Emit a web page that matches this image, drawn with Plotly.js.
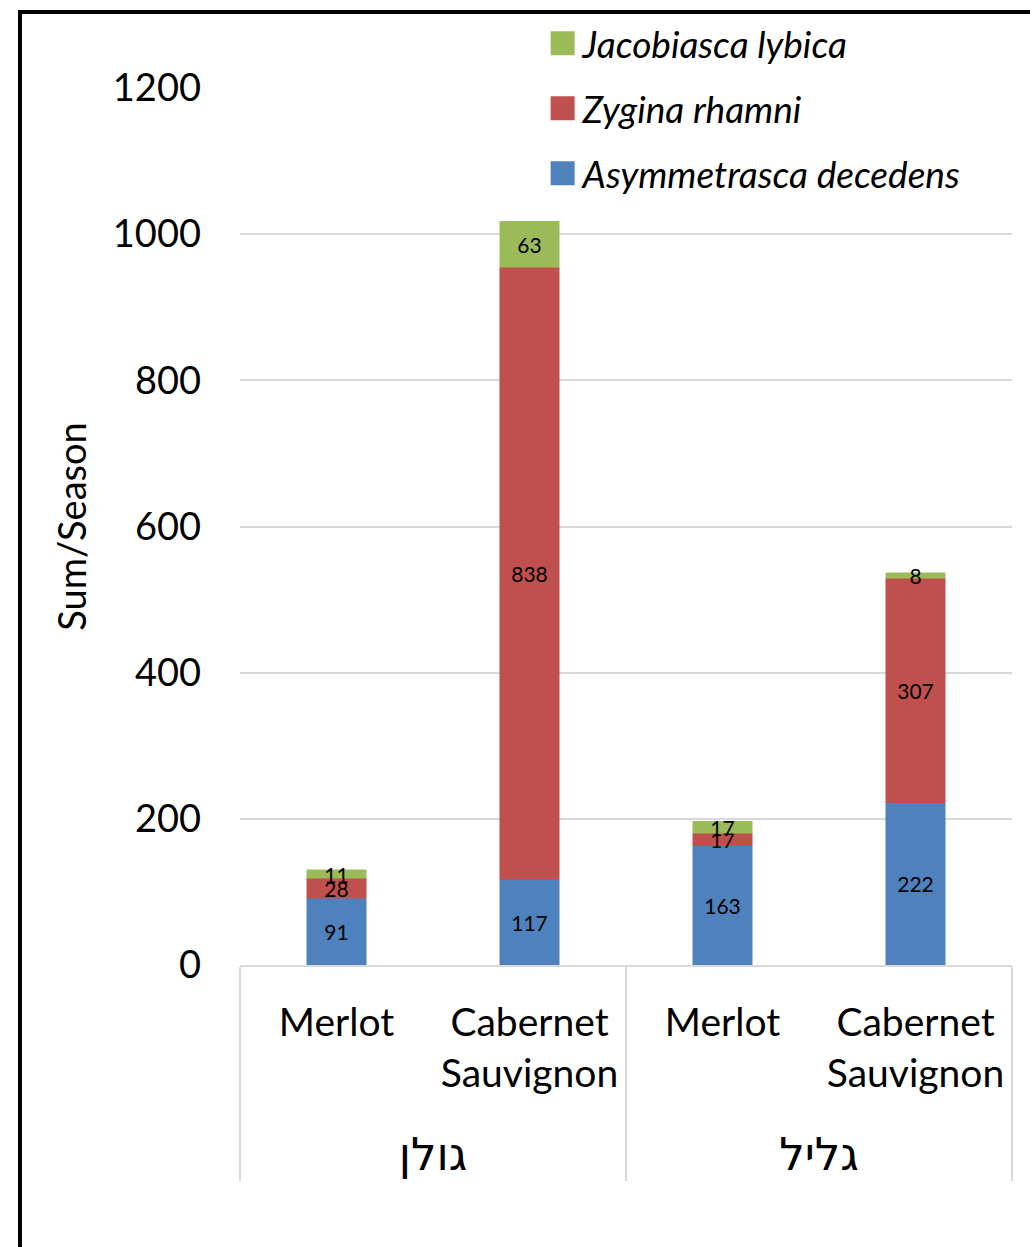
<!DOCTYPE html>
<html>
<head>
<meta charset="utf-8">
<script src="https://cdn.plot.ly/plotly-3.0.1.min.js"></script>
<style>
html,body{margin:0;padding:0;background:#fff;}
#chart{width:1030px;height:1247px;}
/* enlarge the legend swatches to the reference's square size */
#chart .legendpoints path{stroke-width:12px !important;}
</style>
</head>
<body>
<div id="chart"></div>
<script>
// Data
const regions = ["גולן", "גולן", "גליל", "גליל"];
const varieties = ["Merlot", "Cabernet<br>Sauvignon", "Merlot", "Cabernet<br>Sauvignon"];
const seriesNames = ["Asymmetrasca decedens", "Zygina rhamni", "Jacobiasca lybica"];
const asymmetrasca = [91, 117, 163, 222];
const zygina = [28, 838, 17, 307];
const jacobiasca = [11, 63, 17, 8];
const seriesColors = ["#4F81BD", "#C0504D", "#9BBB59"];
const yTicks = [0, 200, 400, 600, 800, 1000, 1200];

const FONT = "Lato, 'DejaVu Sans', sans-serif";
// leading line break only pushes the region row further below the variety row
const x = [regions.map(r => '<br><span style="font-size:45px;baseline-shift:-7px">' + r + '</span>'), varieties];
const values = [asymmetrasca, zygina, jacobiasca];

const traces = values.map((v, i) => ({
  type: 'bar',
  name: seriesNames[i],
  legendgroup: 'g' + i,
  legendrank: values.length - i,
  x: x,
  y: v,
  marker: {color: seriesColors[i], line: {color: seriesColors[i], width: 0.5}},
  text: v.map(String),
  textposition: 'inside',
  insidetextanchor: 'middle',
  textangle: 0,
  constraintext: 'none',
  cliponaxis: false,
  textfont: {family: FONT, size: 21, color: '#000'},
  hoverinfo: 'skip'
}));

const layout = {
  width: 1030,
  height: 1247,
  barmode: 'stack',
  bargap: 0.69,
  paper_bgcolor: '#fff',
  plot_bgcolor: '#fff',
  margin: {l: 240, r: 18, t: 88, b: 282},
  font: {family: FONT, color: '#000'},
  showlegend: true,
  legend: {
    x: 0.392, xanchor: 'left',
    y: 1.086, yanchor: 'top',
    traceorder: 'grouped',
    tracegroupgap: 14,
    font: {family: FONT, size: 37, style: 'italic', color: '#000'},
    bgcolor: 'rgba(0,0,0,0)'
  },
  xaxis: {
    type: 'multicategory',
    showgrid: false,
    showline: true,
    linecolor: '#d9d9d9',
    linewidth: 2,
    showdividers: true,
    dividercolor: '#d9d9d9',
    dividerwidth: 2,
    ticks: '',
    ticklabelstandoff: 22,
    tickfont: {family: FONT, size: 39, color: '#000'}
  },
  yaxis: {
    range: [0, 1200],
    tickvals: yTicks,
    ticktext: yTicks.map(String),
    showgrid: true,
    gridcolor: '#d9d9d9',
    gridwidth: 2,
    zeroline: false,
    showline: false,
    ticks: '',
    ticklabelstandoff: 38,
    tickfont: {family: FONT, size: 38, color: '#000'},
    title: {text: 'Sum/Season', font: {family: FONT, size: 38, color: '#000'}, standoff: 14}
  },
  shapes: [{
    type: 'rect', xref: 'paper', yref: 'paper',
    x0: -0.285, x1: 1.2, y0: -0.6, y1: 1.0867,
    line: {color: '#000', width: 4}, fillcolor: 'rgba(0,0,0,0)', layer: 'below'
  }]
};

Plotly.newPlot('chart', traces, layout, {displayModeBar: false, staticPlot: true});
</script>
</body>
</html>
